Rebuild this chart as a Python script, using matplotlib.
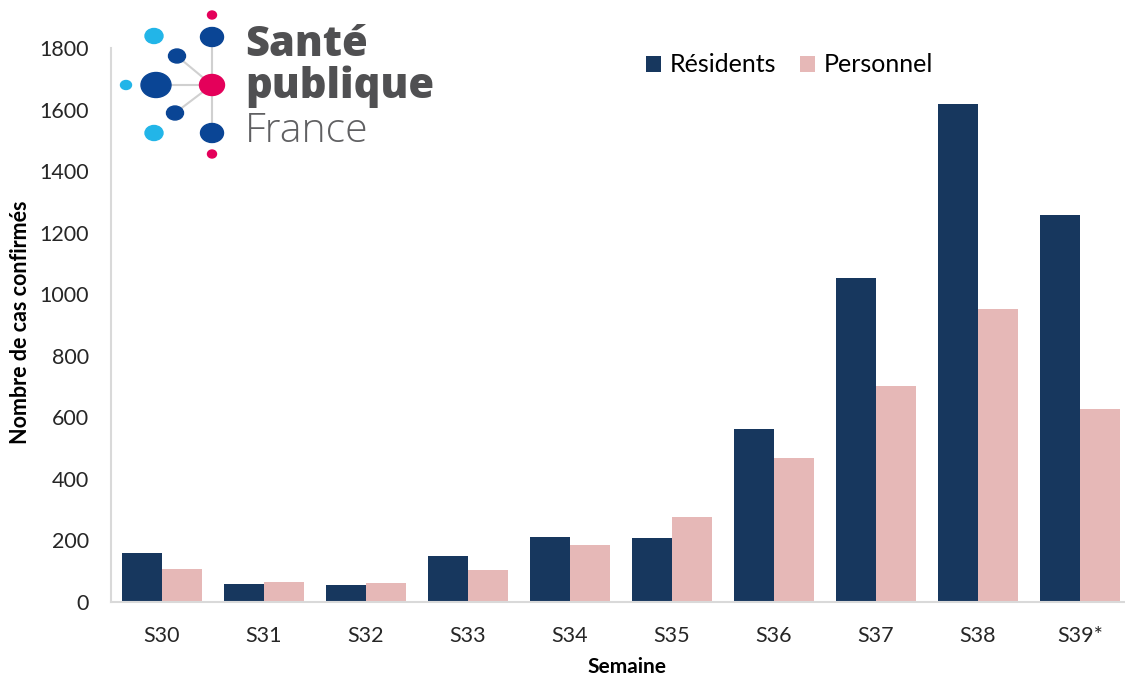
import matplotlib.pyplot as plt
import numpy as np
from matplotlib.patches import Ellipse

# Data
semaines = ['S30', 'S31', 'S32', 'S33', 'S34', 'S35', 'S36', 'S37', 'S38', 'S39*']
residents = [159, 60, 56, 148, 211, 207, 561, 1052, 1617, 1256]
personnel = [107, 66, 62, 104, 186, 275, 469, 702, 951, 626]

navy = '#17375E'
pink = '#E6B8B7'
plt.rcParams['font.family'] = ['Lato', 'DejaVu Sans']

fig = plt.figure(figsize=(11.25, 6.77), dpi=100)
W, H = 1125, 677
# axes in pixel units: left 111, baseline 602, top 48, category width 102
ax = fig.add_axes([111 / W, 1 - 602 / H, 1020 / W, (602 - 48) / H])

x = np.arange(len(semaines))
bw = 0.39
ax.bar(x - bw / 2, residents, bw, color=navy, label='Résidents')
ax.bar(x + bw / 2, personnel, bw, color=pink, label='Personnel')

ax.set_xlim(-0.5, len(semaines) - 0.5)
ax.set_ylim(0, 1800)
ax.set_yticks(range(0, 1801, 200))
ax.set_xticks(x)
ax.set_xticklabels(semaines)
ax.tick_params(axis='both', length=0, labelsize=15.5, colors='#262626')
ax.tick_params(axis='x', pad=17)
ax.tick_params(axis='y', pad=16)
for s in ['top', 'right']:
    ax.spines[s].set_visible(False)
for s in ['left', 'bottom']:
    ax.spines[s].set_color('#D9D9D9')
    ax.spines[s].set_linewidth(1.5)

fig.text(21 / W, 1 - 322 / H, 'Nombre de cas confirmés', rotation=90,
         ha='center', va='center', fontsize=15.5, fontweight='bold', color='black')
fig.text(627 / W, 1 - 667 / H, 'Semaine', ha='center', va='center',
         fontsize=15, fontweight='bold', color='black')

ax.legend(loc='center left', bbox_to_anchor=(633 / W, 1 - 65 / H),
          bbox_transform=fig.transFigure, ncol=2, frameon=False,
          fontsize=18, handlelength=0.6, handleheight=0.6, borderpad=0,
          handletextpad=0.35, columnspacing=0.95)

# Santé publique France logo
lg = fig.add_axes([0, 0, 1, 1], zorder=5)
lg.set_xlim(0, W)
lg.set_ylim(H, 0)
lg.axis('off')
lg.patch.set_alpha(0)
grey = '#D0D0D0'
lg.plot([212, 212], [37, 133], color=grey, lw=1.5, zorder=1)
lg.plot([156, 212], [85, 85], color=grey, lw=1.5, zorder=1)
lg.plot([177, 212], [56, 85], color=grey, lw=1.5, zorder=1)
lg.plot([175, 212], [113, 85], color=grey, lw=1.5, zorder=1)
dblue = '#0A4595'
lblue = '#22B5E8'
red = '#E4005A'
dots = [
    (212, 15, 9, 8, red),
    (212, 37, 23, 19, dblue),
    (154, 36, 18, 15, lblue),
    (177, 56, 17, 14, dblue),
    (126, 85, 11, 9, lblue),
    (156, 85, 30, 25, dblue),
    (212, 85, 25, 21, red),
    (175, 113, 17, 14, dblue),
    (154, 133, 18, 15, lblue),
    (212, 133, 23, 19, dblue),
    (212, 154, 9, 8, red),
]
for cx, cy, w, h, c in dots:
    lg.add_patch(Ellipse((cx, cy), w, h, color=c, zorder=2))
logo_font = ['Open Sans', 'DejaVu Sans']
lg.text(245, 56, 'Santé', fontsize=30, fontweight='heavy', color='#505052',
        va='baseline', ha='left', family=logo_font)
lg.text(245, 98, 'publique', fontsize=30, fontweight='heavy', color='#505052',
        va='baseline', ha='left', family=logo_font)
lg.text(245, 142, 'France', fontsize=29.5, fontweight='light', color='#606062',
        va='baseline', ha='left', family=logo_font)

fig.savefig('out.png', dpi=100)
